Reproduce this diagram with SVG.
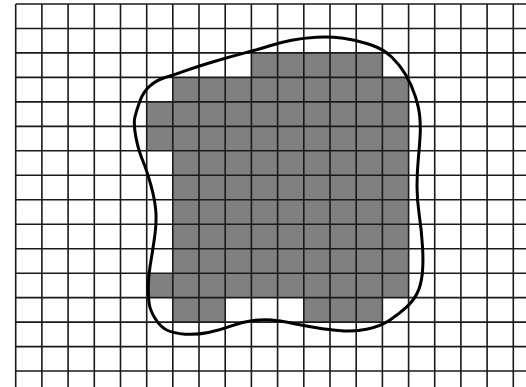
<svg xmlns="http://www.w3.org/2000/svg" width="526" height="387" viewBox="0 0 526 387">
<style>
.cell{fill:#808080;stroke:none}
.grid{fill:none;stroke:#1a1a1a;stroke-width:1.6}
.blob{fill:none;stroke:#000;stroke-width:3;stroke-linejoin:round}
</style>
<rect width="526" height="387" fill="#fff"/>
<g id="cells">
<rect class="cell" x="251.4" y="52.9" width="131" height="24.5"/>
<rect class="cell" x="172.8" y="77.4" width="235.8" height="24.5"/>
<rect class="cell" x="146.7" y="101.9" width="261.9" height="48.9"/>
<rect class="cell" x="172.8" y="150.8" width="235.8" height="122.4"/>
<rect class="cell" x="146.7" y="273.2" width="261.9" height="24.4"/>
<rect class="cell" x="172.8" y="297.6" width="52.4" height="24.5"/>
<rect class="cell" x="303.8" y="297.6" width="78.6" height="24.5"/>
</g>
<g id="grid">
<path class="grid" d="M15.7 4V387M41.9 4V387M68.1 4V387M94.3 4V387M120.5 4V387M146.7 4V387M172.8 4V387M199 4V387M225.2 4V387M251.4 4V387M277.6 4V387M303.8 4V387M330 4V387M356.2 4V387M382.4 4V387M408.6 4V387M434.7 4V387M460.9 4V387M487.1 4V387M513.3 4V387
M15.7 4H526M15.7 28.5H526M15.7 52.9H526M15.7 77.4H526M15.7 101.9H526M15.7 126.4H526M15.7 150.8H526M15.7 175.3H526M15.7 199.8H526M15.7 224.2H526M15.7 248.7H526M15.7 273.2H526M15.7 297.6H526M15.7 322.1H526M15.7 346.6H526M15.7 371H526"/>
</g>
<g id="region">
<path class="blob" d="M135 116.65
Q136.7 110 140 100.85 Q143.3 91.7 150 85.85 Q156.7 80 165 77.5 Q173.3 75 185 70.85 Q196.7 66.7 213.35 61.7
Q230 56.7 245 52.85 Q260 49 270 45.75 Q280 42.5 291.5 40.25 Q303 38 316.5 37.25 Q330 36.5 343.35 38.25
Q356.7 40 370 44.5 Q383.3 49 391.65 57 Q400 65 405.85 75 Q411.7 85 415.35 96.5 Q419 108 419.75 116.5
Q420.5 125 420.25 132.5 Q420 140 418.5 156.5 Q417 173 417 186.5 Q417 200 419.25 215 Q421.5 230 422.5 246.5
Q423.5 263 422.25 274 Q421 285 417.5 292.5 Q414 300 407 306.65 Q400 313.3 390 320 Q380 326.7 366.5 329.2
Q353 331.7 341.5 330.85 Q330 330 315 327.5 Q300 325 290 322.75 Q280 320.5 271.5 319.9 Q263 319.3 253 320.5
Q243 321.7 231.5 325.85 Q220 330 208.35 332.5 Q196.7 335 185 334.15 Q173.3 333.3 166.65 330 Q160 326.7 155 318.35
Q150 310 149.15 303.35 Q148.3 296.7 148.3 286.7 Q148.3 276.7 150 266.7 Q151.7 256.7 154.2 240 Q156.7 223.3 155.85 211.65
Q155 200 150.85 185 Q146.7 170 142.5 160 Q138.3 150 135.8 136.65 Q133.3 123.3 135 116.65 Z"/>
</g>
</svg>
